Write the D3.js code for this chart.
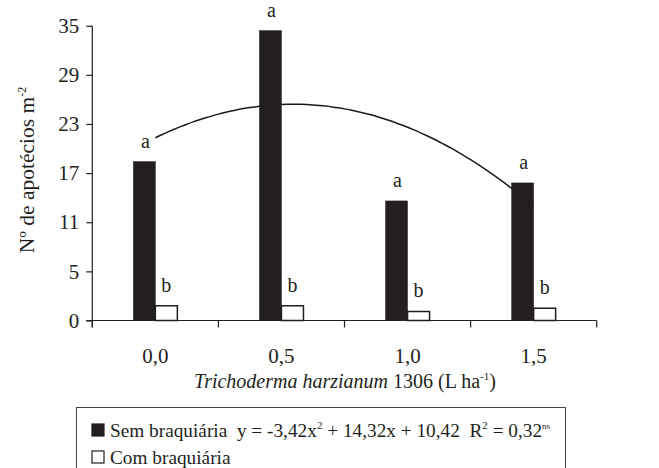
<!DOCTYPE html>
<html>
<head>
<meta charset="utf-8">
<script src="https://cdn.jsdelivr.net/npm/d3@7"></script>
<style>
  html, body { margin: 0; padding: 0; background: #fff; }
  svg text { font-family: "Liberation Serif", "Tinos", "Times New Roman", Times, "Noto Serif", "DejaVu Serif", serif; }
</style>
</head>
<body>
<svg id="chart" width="659" height="468"></svg>
<script>
// ---- data ----
const categories = ["0,0", "0,5", "1,0", "1,5"];
const seriesNames = ["Sem braquiária", "Com braquiária"];
const semValues = [18.4, 34.4, 13.6, 15.8];
const comValues = [0.8, 0.8, 0.1, 0.5];
const semLetters = ["a", "a", "a", "a"];
const comLetters = ["b", "b", "b", "b"];
const yTickValues = [-1, 5, 11, 17, 23, 29, 35];
const yTickLabels = ["0", "5", "11", "17", "23", "29", "35"];
const trendCoef = [-3.42, 14.32, 10.42]; // y = a x^2 + b x + c, x = 1..4

const INK = "#231f20";
const svg = d3.select("#chart");
const W = 659, H = 468;
const m = { left: 92.3, right: 659 - 596.7, top: 25.7, bottom: 468 - 320.5 };

const x = d3.scaleBand().domain(categories).range([m.left, W - m.right]).paddingInner(0).paddingOuter(0);
const xs = d3.scaleBand().domain(seriesNames).range([-22, 22]);
const y = d3.scaleLinear().domain([-1, 35]).range([H - m.bottom, m.top]);

const data = categories.map((c, i) => ({ cat: c, vals: [semValues[i], comValues[i]], letters: [semLetters[i], comLetters[i]] }));

// trendline (behind bars)
const xt = d3.scaleLinear().domain([1, 4]).range([x(categories[0]) + x.bandwidth() / 2, x(categories[3]) + x.bandwidth() / 2]);
const tPts = d3.range(1, 4.0001, 0.05).map(t => [t, trendCoef[0] * t * t + trendCoef[1] * t + trendCoef[2]]);
svg.append("path")
  .attr("d", d3.line().x(d => xt(d[0])).y(d => y(d[1])).curve(d3.curveBasis)(tPts))
  .attr("fill", "none").attr("stroke", "#1a1a1a").attr("stroke-width", 1.5);

// bars
const g = svg.append("g");
data.forEach(d => {
  const cx = x(d.cat) + x.bandwidth() / 2;
  seriesNames.forEach((s, j) => {
    const x0 = cx + xs(s);
    g.append("rect")
      .attr("x", x0).attr("width", xs.bandwidth())
      .attr("y", y(d.vals[j])).attr("height", y(-1) - y(d.vals[j]))
      .attr("fill", j === 0 ? INK : "#fff")
      .attr("stroke", INK).attr("stroke-width", j === 0 ? 0.5 : 1.5);
    g.append("text")
      .attr("x", x0 + xs.bandwidth() / 2 + (j === 0 ? 1 : 0))
      .attr("y", y(d.vals[j]) - 14)
      .attr("text-anchor", "middle")
      .attr("font-size", 20).attr("fill", INK)
      .text(d.letters[j]);
  });
});

// axes
const yAxis = d3.axisLeft(y).tickValues(yTickValues).tickSize(6).tickFormat((v, i) => yTickLabels[i]);
const ya = svg.append("g").attr("transform", `translate(${m.left},0)`).call(yAxis);
ya.select(".domain").attr("d", `M0,${y(35)}V${y(-1) + 7}`);
ya.selectAll("text").attr("font-size", 21).attr("fill", INK).attr("dx", -4);
ya.selectAll("line, path").attr("stroke", INK).attr("stroke-width", 1.2);

const xAxis = d3.axisBottom(x).tickValues([]).tickSizeOuter(0);
const xa = svg.append("g").attr("transform", `translate(0,${y(-1)})`).call(xAxis);
xa.select(".domain").attr("d", `M${m.left - 6},0H${W - m.right}`).attr("stroke", INK).attr("stroke-width", 1.2);
const bounds = categories.map(c => x(c)).concat([x(categories[3]) + x.bandwidth()]);
xa.selectAll(".bt").data(bounds).join("line").attr("class", "bt")
  .attr("x1", d => d).attr("x2", d => d).attr("y1", 0).attr("y2", 7)
  .attr("stroke", INK).attr("stroke-width", 1.2);
xa.selectAll(".lbl").data(categories).join("text").attr("class", "lbl")
  .attr("x", d => x(d) + x.bandwidth() / 2).attr("y", 42)
  .attr("text-anchor", "middle").attr("font-size", 21).attr("fill", INK)
  .text(d => d);

// x title
const xt2 = svg.append("text").attr("x", 345).attr("y", 388).attr("text-anchor", "middle")
  .attr("font-size", 20).attr("fill", INK);
xt2.append("tspan").attr("font-style", "italic").text("Trichoderma harzianum");
xt2.append("tspan").text(" 1306 (L ha");
xt2.append("tspan").attr("font-size", 11).attr("dy", -8).text("-1");
xt2.append("tspan").attr("dy", 8).text(")");

// y title
const yt = svg.append("text").attr("transform", "translate(34,170) rotate(-90)")
  .attr("text-anchor", "middle").attr("font-size", 21.5).attr("fill", INK);
yt.append("tspan").text("Nº de apotécios m");
yt.append("tspan").attr("font-size", 12).attr("dy", -8).text("-2");

// legend
svg.append("rect").attr("x", 76.5).attr("y", 407.5).attr("width", 489).attr("height", 80)
  .attr("fill", "#fff").attr("stroke", "#444").attr("stroke-width", 1);
const leg = svg.append("g");
seriesNames.forEach((s, i) => {
  const yy = 437 + i * 27;
  leg.append("rect").attr("x", 92).attr("y", yy - 13).attr("width", 12).attr("height", 12)
    .attr("fill", i === 0 ? INK : "#fff").attr("stroke", INK).attr("stroke-width", 1.2);
  const t = leg.append("text").attr("x", 110).attr("y", yy).attr("font-size", 19.3).attr("fill", INK);
  t.append("tspan").text(s);
  if (i === 0) {
    t.append("tspan").attr("xml:space", "preserve").text("  y = -3,42x");
    t.append("tspan").attr("font-size", 11).attr("dy", -8).text("2");
    t.append("tspan").attr("dy", 8).attr("xml:space", "preserve").text(" + 14,32x + 10,42  R");
    t.append("tspan").attr("font-size", 11).attr("dy", -8).text("2");
    t.append("tspan").attr("dy", 8).text(" = 0,32");
    t.append("tspan").attr("font-size", 9).attr("dy", -8).text("ns");
  }
});
</script>
</body>
</html>
